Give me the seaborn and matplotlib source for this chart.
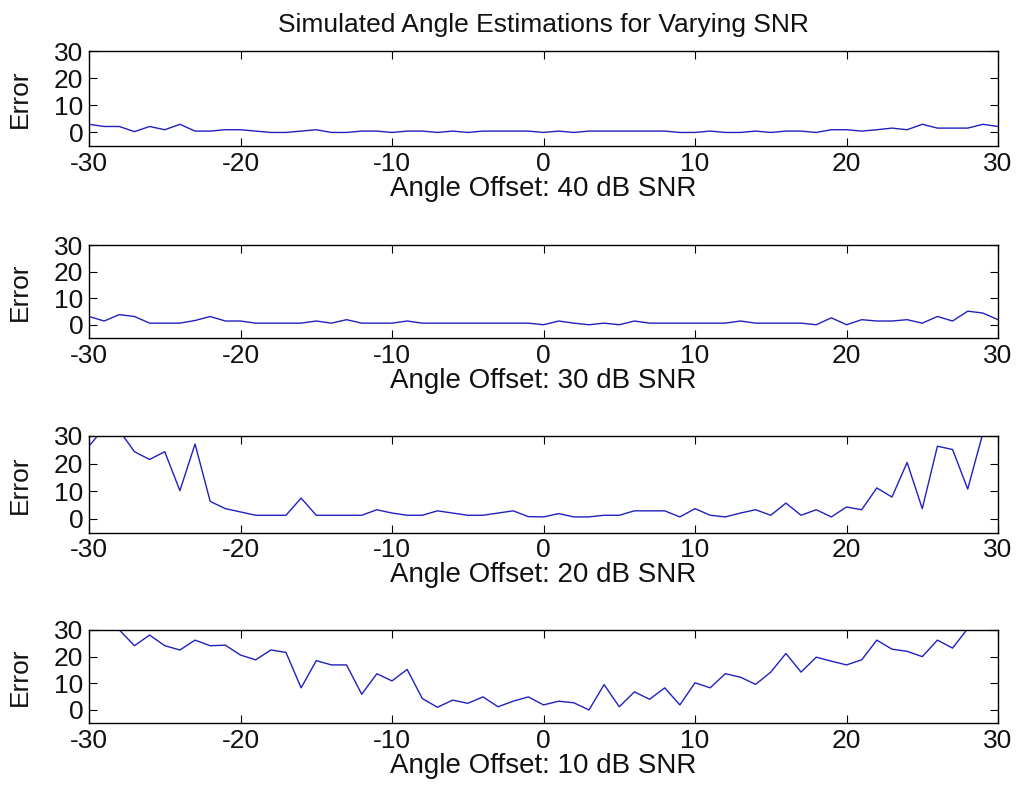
import numpy as np
import pandas as pd
import matplotlib
matplotlib.use('Agg')
import matplotlib.pyplot as plt
import seaborn as sns

sns.set_style('ticks')
plt.rcParams['font.family'] = ['Liberation Sans', 'DejaVu Sans']
plt.rcParams.update({
    'font.size': 19,
    'xtick.direction': 'in',
    'ytick.direction': 'in',
    'xtick.major.size': 6,
    'ytick.major.size': 6,
    'axes.linewidth': 1.0,
    'axes.unicode_minus': False,
    'text.color': '#111111',
    'axes.labelcolor': '#111111',
    'axes.edgecolor': 'black',
    'xtick.color': 'black',
    'ytick.color': 'black',
    'xtick.labelcolor': '#111111',
    'ytick.labelcolor': '#111111',
})

angles = list(range(-30, 31))

err_40db = [3, 2.2, 2.2, 0.3, 2.2, 1, 3, 0.5, 0.5, 1, 1, 0.5, 0, 0, 0.5, 1,
            0, 0, 0.5, 0.5, 0, 0.5, 0.5, 0, 0.5, 0, 0.5, 0.5, 0.5, 0.5, 0,
            0.5, 0, 0.5, 0.5, 0.5, 0.5, 0.5, 0.5, 0, 0, 0.5, 0, 0, 0.5, 0,
            0.5, 0.5, 0, 1, 1, 0.5, 1, 1.6, 1, 3, 1.6, 1.6, 1.6, 3, 2.2]

err_30db = [3.1, 1.4, 3.8, 3.1, 0.6, 0.6, 0.6, 1.6, 3.1, 1.4, 1.4, 0.6, 0.6, 0.6, 0.6, 1.4,
            0.6, 1.9, 0.6, 0.6, 0.6, 1.4, 0.6, 0.6, 0.6, 0.6, 0.6, 0.6, 0.6, 0.6, 0,
            1.4, 0.6, 0, 0.6, 0, 1.4, 0.6, 0.6, 0.6, 0.6, 0.6, 0.6, 1.4, 0.6, 0.6,
            0.6, 0.6, 0, 2.6, 0, 1.9, 1.4, 1.4, 1.9, 0.6, 3.1, 1.4, 5.1, 4.4, 1.9]

err_20db = [26.3, 33, 32, 24.3, 21.5, 24.3, 10.2, 27.1, 6.3, 3.7, 2.5, 1.3, 1.3, 1.3, 7.5, 1.3,
            1.3, 1.3, 1.3, 3.3, 2.1, 1.3, 1.3, 2.9, 2.1, 1.3, 1.3, 2.1, 2.9, 0.8, 0.7,
            1.9, 0.7, 0.7, 1.3, 1.3, 2.9, 2.9, 2.9, 0.7, 3.7, 1.3, 0.7, 2.1, 3.3, 1.3,
            5.7, 1.3, 3.3, 0.7, 4.3, 3.3, 11.2, 7.9, 20.4, 3.7, 26.3, 25.1, 10.8, 31, 34]

err_10db = [33, 31, 30, 24.1, 28.1, 24.1, 22.5, 26.2, 24.1, 24.3, 20.6, 18.8, 22.5, 21.6, 8.3, 18.5,
            16.9, 16.9, 5.9, 13.6, 10.9, 15.2, 4.3, 1.0, 3.7, 2.5, 4.9, 1.2, 3.3, 4.9, 1.9,
            3.3, 2.7, 0, 9.5, 1.2, 6.8, 4.0, 8.3, 1.9, 10.2, 8.3, 13.6, 12.3, 9.6, 14.2,
            21.2, 14.2, 19.8, 18.3, 16.9, 18.8, 26.2, 22.8, 22.0, 20.0, 26.2, 23.2, 30.5, 33, 35]

snr_labels = ['40', '30', '20', '10']
series = [err_40db, err_30db, err_20db, err_10db]

# axes boxes in figure fractions (left, bottom, width, height)
boxes = [
    (0.0876, 0.8177, 0.8947, 0.1186),
    (0.0876, 0.5780, 0.8947, 0.1161),
    (0.0876, 0.3350, 0.8947, 0.1207),
    (0.0876, 0.0970, 0.8947, 0.1165),
]

fig = plt.figure(figsize=(10.16, 8.01), dpi=100)

for i, (snr, vals) in enumerate(zip(snr_labels, series)):
    ax = fig.add_axes(boxes[i])
    df = pd.DataFrame({'angle': angles, 'error': vals})
    sns.lineplot(data=df, x='angle', y='error', color='#2020c0', lw=1.0, ax=ax)
    ax.set_xlim(-30, 30)
    ax.set_ylim(-5, 30)
    ax.set_xticks([-30, -20, -10, 0, 10, 20, 30])
    ax.set_yticks([0, 10, 20, 30])
    ax.tick_params(top=True, right=True, labelsize=19, pad=4)
    ax.set_xlabel(f'Angle Offset: {snr} dB SNR', fontsize=20, labelpad=0)
    ax.set_ylabel('Error', fontsize=19, labelpad=16)
    for s in ax.spines.values():
        s.set_visible(True)
    if i == 0:
        ax.set_title('Simulated Angle Estimations for Varying SNR', fontsize=19, pad=14)

fig.savefig('out.png', dpi=100, facecolor='white')
